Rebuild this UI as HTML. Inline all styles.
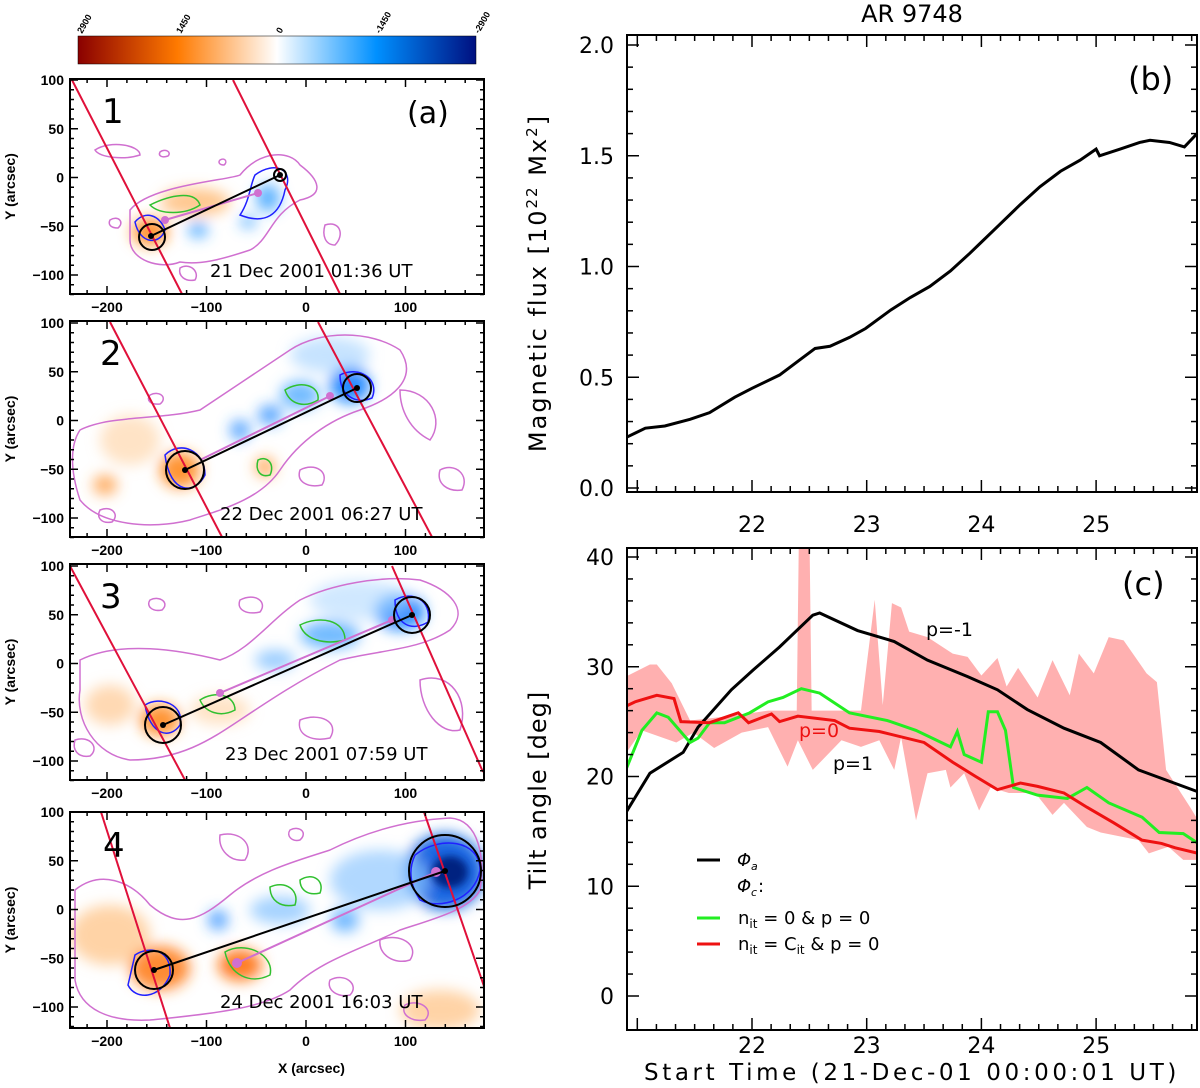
<!DOCTYPE html>
<html><head><meta charset="utf-8"><style>
html,body{margin:0;padding:0;background:#fff;}
svg{display:block;}
.pt{font-family:"Liberation Sans",sans-serif;font-weight:bold;font-size:14px;}
.dj{font-family:"DejaVu Sans","Liberation Sans",sans-serif;}
</style></head><body>
<svg id="fig" width="1200" height="1088" viewBox="0 0 1200 1088" xmlns="http://www.w3.org/2000/svg">
<defs>
<linearGradient id="cbar" x1="0" x2="1" y1="0" y2="0">
<stop offset="0" stop-color="#8a0000"/><stop offset="0.25" stop-color="#ff7a00"/><stop offset="0.5" stop-color="#ffffff"/><stop offset="0.75" stop-color="#0090ff"/><stop offset="1" stop-color="#001080"/>
</linearGradient>
<filter id="blur" x="-50%" y="-50%" width="200%" height="200%"><feGaussianBlur stdDeviation="7"/></filter>
<filter id="blur2" x="-50%" y="-50%" width="200%" height="200%"><feGaussianBlur stdDeviation="4"/></filter>
<clipPath id="c1"><rect x="70" y="79" width="414" height="215"/></clipPath>
<clipPath id="c2"><rect x="70" y="321" width="414" height="216"/></clipPath>
<clipPath id="c3"><rect x="70" y="564" width="414" height="216"/></clipPath>
<clipPath id="c4"><rect x="70" y="812" width="414" height="216"/></clipPath>
<clipPath id="cc"><rect x="627" y="548" width="570" height="482"/></clipPath>
</defs>

<g>
<rect x="78" y="36" width="398" height="28" fill="url(#cbar)" stroke="#000" stroke-width="0.5"/>
<g class="pt" font-size="9" font-weight="normal">
<text transform="translate(82,34) rotate(-60)" font-size="9">2900</text>
<text transform="translate(181,34) rotate(-60)" font-size="9">1450</text>
<text transform="translate(281,34) rotate(-60)" font-size="9">0</text>
<text transform="translate(380,34) rotate(-60)" font-size="9">-1450</text>
<text transform="translate(479,34) rotate(-60)" font-size="9">-2900</text>
</g>
</g>

<!-- Panel 1 -->
<g>
<g clip-path="url(#c1)">
<g filter="url(#blur)">
<ellipse cx="150" cy="232" rx="18" ry="14" fill="#ff8a20" opacity="0.9"/>
<ellipse cx="195" cy="202" rx="35" ry="14" fill="#ffb060" opacity="0.7"/>
<ellipse cx="268" cy="198" rx="12" ry="14" fill="#3aa0ff" opacity="0.8"/>
<ellipse cx="248" cy="222" rx="8" ry="6" fill="#3aa0ff" opacity="0.8"/>
<ellipse cx="198" cy="230" rx="10" ry="8" fill="#3aa0ff" opacity="0.8"/>
</g>
<g fill="none" stroke="#d070d0" stroke-width="1.5">
<path d="M130,210 C150,185 230,180 240,175 C260,150 290,150 300,165 C320,180 325,195 300,200 C270,215 270,240 250,250 C220,260 200,265 180,262 C160,270 130,260 130,240 Z"/>
<path d="M95,150 C110,140 140,145 140,155 C125,160 100,158 95,150 Z"/>
<path d="M325,225 C340,220 345,235 335,245 C325,245 322,235 325,225 Z"/>
<path d="M180,268 C190,262 200,272 195,280 C185,282 178,276 180,268 Z"/>
<path d="M160,152 C165,148 172,152 168,156 C162,158 158,156 160,152 Z"/>
<path d="M220,160 C225,157 228,162 224,165 C219,165 218,162 220,160 Z"/>
<path d="M110,220 C118,215 125,222 118,228 C110,228 108,224 110,220 Z"/>
</g>
<path d="M135,222 C145,210 160,215 165,230 C160,245 140,245 135,222 Z" fill="none" stroke="#2020ff" stroke-width="1.5"/>
<path d="M255,175 C275,160 295,170 285,190 C280,215 265,225 240,215 C250,200 250,185 255,175 Z" fill="none" stroke="#2020ff" stroke-width="1.5"/>
<path d="M150,205 C170,195 195,190 200,205 C185,215 160,215 150,205 Z" fill="none" stroke="#30c030" stroke-width="1.5"/>
<line x1="72" y1="80" x2="182" y2="294" stroke="#e0103a" stroke-width="2"/>
<line x1="233" y1="80" x2="340" y2="294" stroke="#e0103a" stroke-width="2"/>
<line x1="165" y1="220" x2="258" y2="193" stroke="#d070d0" stroke-width="2"/>
<circle cx="258" cy="193" r="4" fill="#d070d0"/><circle cx="165" cy="220" r="4" fill="#d070d0"/>
<line x1="151" y1="236" x2="280" y2="175" stroke="#000" stroke-width="2"/>
<circle cx="152" cy="237" r="13" fill="none" stroke="#000" stroke-width="2"/>
<circle cx="280" cy="175" r="6" fill="none" stroke="#000" stroke-width="2"/>
<circle cx="151" cy="236" r="3" fill="#000"/><circle cx="280" cy="175" r="3" fill="#000"/>
</g>
<rect x="70" y="79" width="414" height="215" fill="none" stroke="#000" stroke-width="2"/>
<text x="102" y="123" font-family="DejaVu Sans,sans-serif" font-size="34">1</text>
<text x="407" y="123" font-family="DejaVu Sans,sans-serif" font-size="30">(a)</text>
<text x="210" y="277" font-family="DejaVu Sans,sans-serif" font-size="18">21 Dec 2001 01:36 UT</text>
</g>

<!-- Panel 2 -->
<g>
<g clip-path="url(#c2)">
<g filter="url(#blur)">
<ellipse cx="180" cy="470" rx="20" ry="18" fill="#ff8a20" opacity="0.9"/>
<ellipse cx="105" cy="485" rx="12" ry="10" fill="#ff9a40" opacity="0.8"/>
<ellipse cx="265" cy="467" rx="10" ry="10" fill="#ff9a40" opacity="0.8"/>
<ellipse cx="130" cy="440" rx="30" ry="25" fill="#ffd0a0" opacity="0.6"/>
<ellipse cx="350" cy="385" rx="20" ry="18" fill="#1080ff" opacity="0.9"/>
<ellipse cx="300" cy="395" rx="20" ry="14" fill="#50aaff" opacity="0.8"/>
<ellipse cx="270" cy="415" rx="12" ry="10" fill="#3090ff" opacity="0.8"/>
<ellipse cx="240" cy="430" rx="10" ry="10" fill="#3090ff" opacity="0.8"/>
<ellipse cx="330" cy="355" rx="40" ry="18" fill="#a0d0ff" opacity="0.6"/>
</g>
<g fill="none" stroke="#d070d0" stroke-width="1.5">
<path d="M80,430 C110,415 160,420 200,410 C230,390 260,370 290,350 C320,330 370,330 400,350 C420,380 390,400 360,410 C330,420 300,440 280,470 C260,500 220,510 190,520 C150,530 100,525 80,500 C70,470 70,445 80,430 Z"/>
<path d="M400,390 C430,390 445,420 430,440 C410,430 400,410 400,390 Z"/>
<path d="M100,510 C112,505 120,515 112,522 C102,524 96,518 100,510 Z"/>
<path d="M300,470 C315,462 330,472 322,485 C308,488 296,482 300,470 Z"/>
<path d="M440,470 C455,462 470,475 462,490 C448,492 436,484 440,470 Z"/>
<path d="M150,395 C160,390 168,398 160,404 C150,405 146,400 150,395 Z"/>
</g>
<path d="M165,455 C180,440 205,450 205,475 C195,495 170,495 165,455 Z" fill="none" stroke="#2020ff" stroke-width="1.5"/>
<path d="M340,375 C360,365 380,380 372,398 C355,405 340,395 340,375 Z" fill="none" stroke="#2020ff" stroke-width="1.5"/>
<path d="M285,390 C300,380 320,385 318,400 C305,408 290,405 285,390 Z" fill="none" stroke="#30c030" stroke-width="1.5"/>
<path d="M258,460 C268,455 275,465 270,475 C260,478 255,470 258,460 Z" fill="none" stroke="#30c030" stroke-width="1.5"/>
<line x1="110" y1="322" x2="222" y2="537" stroke="#e0103a" stroke-width="2"/>
<line x1="318" y1="322" x2="432" y2="537" stroke="#e0103a" stroke-width="2"/>
<line x1="200" y1="460" x2="330" y2="396" stroke="#d070d0" stroke-width="2"/>
<circle cx="330" cy="396" r="4" fill="#d070d0"/>
<line x1="185" y1="470" x2="357" y2="388" stroke="#000" stroke-width="2"/>
<circle cx="185" cy="470" r="19" fill="none" stroke="#000" stroke-width="2"/>
<circle cx="357" cy="388" r="14" fill="none" stroke="#000" stroke-width="2"/>
<circle cx="185" cy="470" r="3" fill="#000"/><circle cx="357" cy="388" r="3" fill="#000"/>
</g>
<rect x="70" y="321" width="414" height="216" fill="none" stroke="#000" stroke-width="2"/>
<text x="100" y="365" font-family="DejaVu Sans,sans-serif" font-size="34">2</text>
<text x="220" y="520" font-family="DejaVu Sans,sans-serif" font-size="18">22 Dec 2001 06:27 UT</text>
</g>

<!-- Panel 3 -->
<g>
<g clip-path="url(#c3)">
<g filter="url(#blur)">
<ellipse cx="160" cy="720" rx="20" ry="16" fill="#ff8a20" opacity="0.9"/>
<ellipse cx="110" cy="705" rx="25" ry="20" fill="#ffc080" opacity="0.6"/>
<ellipse cx="220" cy="710" rx="30" ry="15" fill="#ffd0a0" opacity="0.6"/>
<ellipse cx="400" cy="612" rx="25" ry="18" fill="#1080ff" opacity="0.9"/>
<ellipse cx="330" cy="635" rx="30" ry="14" fill="#50aaff" opacity="0.8"/>
<ellipse cx="275" cy="660" rx="20" ry="10" fill="#70b8ff" opacity="0.7"/>
<ellipse cx="360" cy="600" rx="50" ry="20" fill="#b0d8ff" opacity="0.6"/>
</g>
<g fill="none" stroke="#d070d0" stroke-width="1.5">
<path d="M80,660 C120,640 180,650 220,660 C250,650 270,620 300,600 C330,585 380,575 420,580 C450,590 470,610 450,630 C420,650 380,650 340,660 C300,680 270,700 240,720 C210,740 180,760 130,760 C95,755 75,720 80,690 Z"/>
<path d="M420,680 C450,670 470,700 460,730 C440,735 420,710 420,680 Z"/>
<path d="M150,600 C160,595 170,603 162,610 C152,612 146,606 150,600 Z"/>
<path d="M300,720 C320,712 340,722 330,738 C312,742 296,735 300,720 Z"/>
<path d="M75,740 C90,735 100,748 90,756 C78,758 72,750 75,740 Z"/>
<path d="M240,600 C255,592 268,602 260,612 C247,615 236,610 240,600 Z"/>
</g>
<path d="M145,705 C160,695 185,705 180,725 C170,740 150,735 145,705 Z" fill="none" stroke="#2020ff" stroke-width="1.5"/>
<path d="M395,600 C412,590 432,600 428,622 C412,632 395,625 395,600 Z" fill="none" stroke="#2020ff" stroke-width="1.5"/>
<path d="M300,625 C320,615 345,620 345,640 C325,645 305,640 300,625 Z" fill="none" stroke="#30c030" stroke-width="1.5"/>
<path d="M200,700 C215,690 235,695 235,710 C220,718 205,712 200,700 Z" fill="none" stroke="#30c030" stroke-width="1.5"/>
<line x1="70" y1="566" x2="185" y2="780" stroke="#e0103a" stroke-width="2"/>
<line x1="392" y1="566" x2="483" y2="772" stroke="#e0103a" stroke-width="2"/>
<line x1="220" y1="693" x2="392" y2="620" stroke="#d070d0" stroke-width="2"/>
<circle cx="220" cy="693" r="4" fill="#d070d0"/><circle cx="392" cy="620" r="4" fill="#d070d0"/>
<line x1="163" y1="725" x2="412" y2="615" stroke="#000" stroke-width="2"/>
<circle cx="163" cy="725" r="18" fill="none" stroke="#000" stroke-width="2"/>
<circle cx="412" cy="615" r="18" fill="none" stroke="#000" stroke-width="2"/>
<circle cx="163" cy="725" r="3" fill="#000"/><circle cx="412" cy="615" r="3" fill="#000"/>
</g>
<rect x="70" y="564" width="414" height="216" fill="none" stroke="#000" stroke-width="2"/>
<text x="100" y="608" font-family="DejaVu Sans,sans-serif" font-size="34">3</text>
<text x="225" y="760" font-family="DejaVu Sans,sans-serif" font-size="18">23 Dec 2001 07:59 UT</text>
</g>

<!-- Panel 4 -->
<g>
<g clip-path="url(#c4)">
<g filter="url(#blur)">
<ellipse cx="160" cy="968" rx="30" ry="22" fill="#ff8020" opacity="0.9"/>
<ellipse cx="240" cy="965" rx="22" ry="16" fill="#ff7010" opacity="0.9"/>
<ellipse cx="110" cy="935" rx="40" ry="30" fill="#ffc080" opacity="0.7"/>
<ellipse cx="440" cy="1010" rx="40" ry="20" fill="#ffc080" opacity="0.7"/>
<ellipse cx="445" cy="872" rx="40" ry="38" fill="#0a60e0" opacity="0.95"/>
<ellipse cx="380" cy="880" rx="50" ry="30" fill="#90c8ff" opacity="0.7"/>
<ellipse cx="280" cy="910" rx="30" ry="14" fill="#80c0ff" opacity="0.7"/>
<ellipse cx="218" cy="920" rx="10" ry="10" fill="#3090ff" opacity="0.8"/>
<ellipse cx="345" cy="920" rx="14" ry="12" fill="#50a8ff" opacity="0.8"/>
</g>
<g filter="url(#blur2)"><ellipse cx="450" cy="872" rx="18" ry="16" fill="#002080"/></g>
<g fill="none" stroke="#d070d0" stroke-width="1.5">
<path d="M75,890 C100,870 130,880 150,905 C180,930 200,920 230,895 C260,870 300,860 330,850 C370,830 410,820 450,818 C480,820 485,860 480,890 C470,910 430,920 400,930 C360,950 320,960 290,990 C260,1010 200,1015 150,1020 C110,1022 80,1010 75,980 Z"/>
<path d="M220,835 C240,830 255,845 245,860 C230,862 218,850 220,835 Z"/>
<path d="M290,830 C300,825 308,833 300,840 C292,842 286,836 290,830 Z"/>
<path d="M380,940 C400,932 420,945 410,960 C395,965 378,955 380,940 Z"/>
<path d="M330,980 C345,972 360,985 350,995 C338,998 326,990 330,980 Z"/>
<path d="M405,1005 C420,998 435,1010 425,1020 C412,1022 400,1015 405,1005 Z"/>
</g>
<path d="M135,955 C150,945 172,950 170,975 C160,1000 135,1000 128,985 Z" fill="none" stroke="#2020ff" stroke-width="1.5"/>
<path d="M415,855 C440,835 480,840 480,870 C475,900 440,910 420,900 C410,885 408,870 415,855 Z" fill="none" stroke="#2020ff" stroke-width="1.5"/>
<path d="M225,952 C245,940 275,955 270,975 C250,985 230,975 225,952 Z" fill="none" stroke="#30c030" stroke-width="1.5"/>
<path d="M270,887 C285,880 300,890 295,905 C280,908 270,900 270,887 Z" fill="none" stroke="#30c030" stroke-width="1.5"/>
<path d="M300,880 C312,872 325,880 320,893 C308,896 300,890 300,880 Z" fill="none" stroke="#30c030" stroke-width="1.5"/>
<line x1="101" y1="812" x2="170" y2="1028" stroke="#e0103a" stroke-width="2"/>
<line x1="424" y1="812" x2="486" y2="992" stroke="#e0103a" stroke-width="2"/>
<line x1="237" y1="963" x2="436" y2="872" stroke="#d070d0" stroke-width="2"/>
<circle cx="237" cy="963" r="5" fill="#d070d0"/><circle cx="436" cy="872" r="5" fill="#d070d0"/>
<line x1="154" y1="970" x2="445" y2="871" stroke="#000" stroke-width="2"/>
<circle cx="154" cy="970" r="19" fill="none" stroke="#000" stroke-width="2"/>
<circle cx="445" cy="871" r="36" fill="none" stroke="#000" stroke-width="2"/>
<circle cx="154" cy="970" r="3" fill="#000"/><circle cx="445" cy="871" r="3" fill="#000"/>
</g>
<rect x="70" y="812" width="414" height="216" fill="none" stroke="#000" stroke-width="2"/>
<text x="103" y="857" font-family="DejaVu Sans,sans-serif" font-size="34">4</text>
<text x="220" y="1008" font-family="DejaVu Sans,sans-serif" font-size="18">24 Dec 2001 16:03 UT</text>
</g>

<g id="panelAxes"></g>
<text class="pt" x="278" y="1073" font-size="14">X (arcsec)</text>

<text x="912" y="22" text-anchor="middle" font-family="DejaVu Sans,sans-serif" font-size="24">AR 9748</text>

<g id="chartB"></g>
<g id="chartC"></g>
</svg>

<script>
// Flux chart (b) data
const fluxDays = [20.91,21.07,21.24,21.46,21.63,21.85,22.0,22.24,22.42,22.55,22.68,22.85,22.99,23.2,23.38,23.55,23.73,23.9,24.0,24.16,24.34,24.51,24.69,24.86,25.0,25.03,25.21,25.38,25.47,25.64,25.77,25.88];
const fluxVals = [0.23,0.27,0.28,0.31,0.34,0.41,0.45,0.51,0.58,0.63,0.64,0.68,0.72,0.8,0.86,0.91,0.98,1.06,1.11,1.19,1.28,1.36,1.43,1.48,1.53,1.5,1.53,1.56,1.57,1.56,1.54,1.6];
const fluxTicks = ["0.0","0.5","1.0","1.5","2.0"];
const dayTicks = [22,23,24,25];
// Tilt chart (c) data
const phiADays = [20.90,21.11,21.40,21.53,21.82,22.01,22.24,22.53,22.59,22.92,23.24,23.53,23.88,24.14,24.40,24.72,25.04,25.37,25.89];
const phiAVals = [16.7,20.3,22.2,24.5,27.9,29.7,31.8,34.7,34.9,33.3,32.3,30.6,29.1,27.9,26.1,24.4,23.1,20.6,18.6];
const greenDays = [20.90,21.04,21.17,21.27,21.46,21.53,21.63,21.76,21.98,22.14,22.27,22.43,22.59,22.85,23.18,23.43,23.73,23.79,23.85,24.00,24.06,24.14,24.21,24.28,24.49,24.75,24.92,25.11,25.40,25.55,25.76,25.89];
const greenVals = [20.6,24.2,25.8,25.4,23.1,23.5,24.9,24.9,25.8,26.8,27.2,28.0,27.6,25.8,25.1,24.2,22.7,24.1,22.0,21.3,25.9,25.9,24.2,19.0,18.3,18.0,19.0,17.6,16.3,14.9,14.8,13.9];
const redDays = [20.90,20.98,21.17,21.32,21.38,21.63,21.88,21.97,22.17,22.24,22.40,22.72,22.85,23.11,23.50,23.75,23.95,24.14,24.34,24.49,24.72,24.92,25.15,25.40,25.57,25.69,25.89];
const redVals = [26.4,26.8,27.4,27.1,25.0,24.9,25.8,24.9,25.7,25.0,25.5,25.1,24.4,24.1,23.1,21.3,20.0,18.8,19.4,19.1,18.5,17.2,15.8,14.2,13.9,13.5,13.0];
const bandUpDays = [20.90,21.11,21.17,21.30,21.46,21.63,21.88,22.14,22.39,22.41,22.50,22.52,22.72,22.95,23.07,23.14,23.22,23.30,23.37,23.53,23.75,23.88,24.00,24.14,24.22,24.32,24.49,24.62,24.77,24.85,24.98,25.11,25.24,25.44,25.53,25.61,25.82,25.89];
const bandUpVals = [29.1,30.2,30.2,28.5,25.1,25.3,25.6,26.0,26.0,43,43,26.0,26.0,26.0,36.1,26.5,35.8,35.4,33.2,32.7,31.2,30.9,29.2,30.8,28.2,29.9,27.2,30.6,27.4,31.2,29.4,32.7,32.4,29.4,28.6,20.6,17.2,16.0];
const bandLoDays = [20.90,21.04,21.34,21.49,21.67,21.91,22.14,22.31,22.40,22.53,22.78,22.95,23.11,23.24,23.30,23.43,23.53,23.69,23.73,23.85,23.98,24.08,24.24,24.47,24.62,24.72,24.92,25.04,25.37,25.46,25.63,25.76,25.89];
const bandLoVals = [22.1,24.2,23.1,24.0,22.6,24.0,24.5,20.9,23.3,20.6,23.3,22.7,23.3,20.6,23.6,16.0,20.3,20.6,19.0,20.3,16.9,19.0,18.5,18.5,16.5,17.6,15.4,14.9,14.2,13.0,13.6,12.4,12.4];
const tiltTicks = ["0","10","20","30","40"];

const NS='http://www.w3.org/2000/svg';
function mk(parent,tag,attrs,text){const e=document.createElementNS(NS,tag);for(const k in attrs)e.setAttribute(k,attrs[k]);if(text!==undefined)e.textContent=text;parent.appendChild(e);return e;}

// Magnetogram axes
const pAx=document.getElementById('panelAxes');
const panels=[{top:79,bot:294,y0:177.5},{top:321,bot:537,y0:420.5},{top:564,bot:780,y0:663.5},{top:812,bot:1028,y0:909.5}];
const pxA=x=>306+x*0.995;
panels.forEach((p,i)=>{
  const py=y=>p.y0-y*0.975;
  for(let x=-220;x<=160;x+=20){const X=pxA(x);const L=(x%100===0)?8:4;
    mk(pAx,'line',{x1:X,y1:p.bot,x2:X,y2:p.bot-L,stroke:'#000','stroke-width':1.5});
    mk(pAx,'line',{x1:X,y1:p.top,x2:X,y2:p.top+L,stroke:'#000','stroke-width':1.5});}
  for(let y=-120;y<=100;y+=10){const Y=py(y);if(Y<p.top-1||Y>p.bot+1)continue;const L=(y%50===0)?8:4;
    mk(pAx,'line',{x1:70,y1:Y,x2:70+L,y2:Y,stroke:'#000','stroke-width':1.5});
    mk(pAx,'line',{x1:484,y1:Y,x2:484-L,y2:Y,stroke:'#000','stroke-width':1.5});}
  [100,50,0,-50,-100].forEach(y=>{const t=mk(pAx,'text',{x:64,y:py(y)+5,'text-anchor':'end',class:'pt'},String(y).replace('-','\u2212'));
    
    });
  [-200,-100,0,100].forEach(x=>{const t=mk(pAx,'text',{x:pxA(x),y:p.bot+18,'text-anchor':'middle',class:'pt'},String(x).replace('-','\u2212'));
    
    });
  const yt=mk(pAx,'text',{transform:`translate(15,${(p.top+p.bot)/2}) rotate(-90)`,'text-anchor':'middle',class:'pt','font-size':12},'Y (arcsec)');
  
  
});

// Common x scale
const X0=627,X1=1197;
const xs=d=>752+(d-22)*114.7;

// Chart B
const gB=document.getElementById('chartB');
const B={top:35,bot:492};
const yB=v=>488-v*221.5;
mk(gB,'rect',{x:X0,y:B.top,width:X1-X0,height:B.bot-B.top,fill:'none',stroke:'#000','stroke-width':2});
for(let v=0;v<=2.0001;v+=0.1){const Y=yB(v);const maj=Math.abs(v*2-Math.round(v*2))<1e-6;const L=maj?12:6;
  mk(gB,'line',{x1:X0,y1:Y,x2:X0+L,y2:Y,stroke:'#000','stroke-width':1.5});
  mk(gB,'line',{x1:X1,y1:Y,x2:X1-L,y2:Y,stroke:'#000','stroke-width':1.5});}
fluxTicks.forEach(t=>{const e=mk(gB,'text',{x:614,y:yB(parseFloat(t))+8,'text-anchor':'end',class:'dj','font-size':22},t);
  
  });
for(let d=21;d<=26;d+=1/6){const X=xs(d);if(X<X0||X>X1)continue;const maj=Math.abs(d-Math.round(d))<1e-6;const L=maj?12:6;
  mk(gB,'line',{x1:X,y1:B.bot,x2:X,y2:B.bot-L,stroke:'#000','stroke-width':1.5});
  mk(gB,'line',{x1:X,y1:B.top,x2:X,y2:B.top+L,stroke:'#000','stroke-width':1.5});}
dayTicks.forEach(d=>{const e=mk(gB,'text',{x:xs(d),y:532,'text-anchor':'middle',class:'dj','font-size':22},String(d));
  
  });
const fl=mk(gB,'polyline',{points:fluxDays.map((d,i)=>xs(d)+','+yB(fluxVals[i])).join(' '),fill:'none',stroke:'#000','stroke-width':3});


const yl=mk(gB,'text',{transform:'translate(546,283) rotate(-90)','text-anchor':'middle',class:'dj','font-size':24,'letter-spacing':'2'},'Magnetic flux [10');


mk(yl,'tspan',{dy:-9,'font-size':15},'22');
mk(yl,'tspan',{dy:9},' Mx');
mk(yl,'tspan',{dy:-9,'font-size':15},'2');
mk(yl,'tspan',{dy:9},']');
const lb=mk(gB,'text',{x:1128,y:90,class:'dj','font-size':32},'(b)');



// Chart C
const gC=document.getElementById('chartC');
const C={top:548,bot:1030};
const yC=v=>996-v*10.975;
const clipG=mk(gC,'g',{'clip-path':'url(#cc)'});
const bandPts=bandUpDays.map((d,i)=>xs(d)+','+yC(bandUpVals[i])).concat(bandLoDays.map((d,i)=>xs(d)+','+yC(bandLoVals[i])).reverse()).join(' ');
const band=mk(clipG,'polygon',{points:bandPts,fill:'#ffb0b0',stroke:'none'});


const la=mk(clipG,'polyline',{points:phiADays.map((d,i)=>xs(d)+','+yC(phiAVals[i])).join(' '),fill:'none',stroke:'#000','stroke-width':3});


const lg=mk(clipG,'polyline',{points:greenDays.map((d,i)=>xs(d)+','+yC(greenVals[i])).join(' '),fill:'none',stroke:'#22ee22','stroke-width':3});


const lr=mk(clipG,'polyline',{points:redDays.map((d,i)=>xs(d)+','+yC(redVals[i])).join(' '),fill:'none',stroke:'#ee1111','stroke-width':3});


mk(gC,'rect',{x:X0,y:C.top,width:X1-X0,height:C.bot-C.top,fill:'none',stroke:'#000','stroke-width':2});
for(let v=0;v<=42;v+=2){const Y=yC(v);if(Y<C.top)continue;const maj=v%10===0;const L=maj?12:6;
  mk(gC,'line',{x1:X0,y1:Y,x2:X0+L,y2:Y,stroke:'#000','stroke-width':1.5});
  mk(gC,'line',{x1:X1,y1:Y,x2:X1-L,y2:Y,stroke:'#000','stroke-width':1.5});}
tiltTicks.forEach(t=>{const e=mk(gC,'text',{x:614,y:yC(parseFloat(t))+8,'text-anchor':'end',class:'dj','font-size':22},t);
  
  });
for(let d=21;d<=26;d+=1/6){const X=xs(d);if(X<X0||X>X1)continue;const maj=Math.abs(d-Math.round(d))<1e-6;const L=maj?12:6;
  mk(gC,'line',{x1:X,y1:C.bot,x2:X,y2:C.bot-L,stroke:'#000','stroke-width':1.5});
  mk(gC,'line',{x1:X,y1:C.top,x2:X,y2:C.top+L,stroke:'#000','stroke-width':1.5});}
dayTicks.forEach(d=>{const e=mk(gC,'text',{x:xs(d),y:1053,'text-anchor':'middle',class:'dj','font-size':22},String(d));
  
  });
const xt=mk(gC,'text',{x:912,y:1080,'text-anchor':'middle',class:'dj','font-size':23,'letter-spacing':'3.6'},'Start Time (21-Dec-01 00:00:01 UT)');


const yt2=mk(gC,'text',{transform:'translate(546,790) rotate(-90)','text-anchor':'middle',class:'dj','font-size':24,'letter-spacing':'1'},'Tilt angle [deg]');


const lc=mk(gC,'text',{x:1122,y:595,class:'dj','font-size':32},'(c)');


const a1=mk(gC,'text',{x:926,y:636,class:'dj','font-size':19},'p=-1');


const a2=mk(gC,'text',{x:799,y:737,class:'dj','font-size':19,fill:'#ee1111'},'p=0');


const a3=mk(gC,'text',{x:833,y:770,class:'dj','font-size':19},'p=1');


// Legend
const leg=mk(gC,'g',{});


mk(leg,'line',{x1:697,y1:860,x2:720,y2:860,stroke:'#000','stroke-width':3});
mk(leg,'text',{x:737,y:866,class:'dj','font-size':18,'font-style':'italic'},'\u03A6');
mk(leg,'text',{x:751,y:870,class:'dj','font-size':11,'font-style':'italic'},'a');
mk(leg,'text',{x:737,y:892,class:'dj','font-size':18,'font-style':'italic'},'\u03A6');
mk(leg,'text',{x:751,y:896,class:'dj','font-size':11,'font-style':'italic'},'c');
mk(leg,'text',{x:758,y:892,class:'dj','font-size':18},':');
mk(leg,'line',{x1:697,y1:918,x2:720,y2:918,stroke:'#22ee22','stroke-width':3});
const t1=mk(leg,'text',{x:738,y:924,class:'dj','font-size':18},'n');
mk(t1,'tspan',{dy:4,'font-size':12},'it');
mk(t1,'tspan',{dy:-4},' = 0  & p = 0');
mk(leg,'line',{x1:697,y1:944,x2:720,y2:944,stroke:'#ee1111','stroke-width':3});
const t2=mk(leg,'text',{x:738,y:950,class:'dj','font-size':18},'n');
mk(t2,'tspan',{dy:4,'font-size':12},'it');
mk(t2,'tspan',{dy:-4},' = C');
mk(t2,'tspan',{dy:4,'font-size':12},'it');
mk(t2,'tspan',{dy:-4},' & p = 0');
</script>
</body></html>
